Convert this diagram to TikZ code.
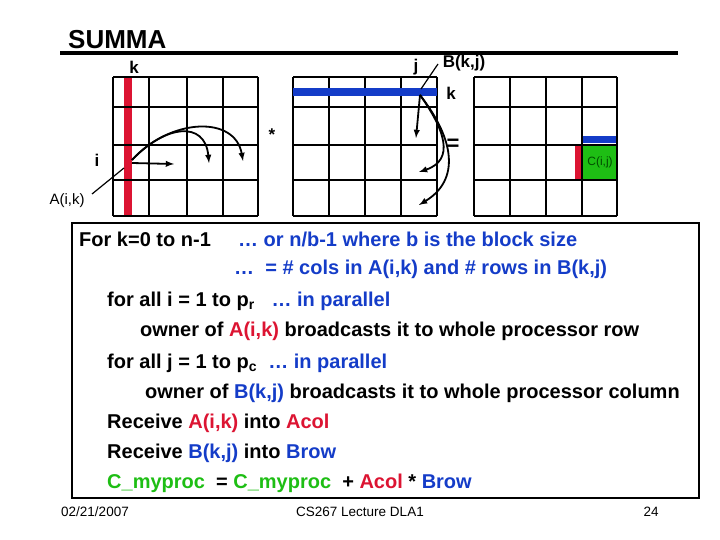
\documentclass[tikz,border=0pt]{standalone}
\usepackage{fontspec}
\setmainfont{Liberation Sans}
\begin{document}
\begin{tikzpicture}[x=1pt,y=-1pt,
  grid/.style={draw=black,line width=1.4pt},
  arr/.style={-latex,line width=1.8pt},
  lbl/.style={font=\bfseries\fontsize{17}{19}\selectfont,inner sep=0},
  txt/.style={font=\bfseries\fontsize{20}{22}\selectfont,anchor=west,inner sep=0},
  foot/.style={font=\fontsize{13.5}{15}\selectfont,inner sep=0}]
\definecolor{myblue}{RGB}{20,60,200}
\definecolor{myred}{RGB}{220,20,50}
\definecolor{mygreen}{RGB}{30,190,20}
\useasboundingbox (0,0) rectangle (720,540);
\node[inner sep=0,font=\bfseries\fontsize{26}{28}\selectfont,anchor=west] (title) at (68,40) {SUMMA};
\draw[line width=3.5pt] (60,53) -- (678,53);
% grid 1
\fill[myred] (124,77) rectangle (132,216);
\foreach \x in {113,149,187,223,258} \draw[grid] (\x,77) -- (\x,216);
\foreach \y in {77,107,145,180,216} \draw[grid] (113,\y) -- (258,\y);
% grid 2
\foreach \x in {293,329,365,401,437} \draw[grid] (\x,77) -- (\x,216);
\foreach \y in {77,107,145,180,216} \draw[grid] (293,\y) -- (437,\y);
\fill[myblue] (293,88) rectangle (437,96);
% grid 3
\fill[mygreen] (582,145) rectangle (617,180);
\fill[myblue] (582,136) rectangle (617,143);
\fill[myred] (575,145) rectangle (581,180);
\foreach \x in {474,510,546,582,617} \draw[grid] (\x,77) -- (\x,216);
\foreach \y in {77,107,145,180,216} \draw[grid] (474,\y) -- (617,\y);
% labels
\node[lbl] (k1) at (134,67) {k};
\node[lbl] (i1) at (97,160) {i};
\node[inner sep=0,font=\fontsize{15}{17}\selectfont] (aik) at (67,201) {A(i,k)};
\coordinate (aikpt) at (124,168);
\draw[line width=1.2pt] (92,194) -- (aikpt);
\node[lbl] (j2) at (416,67) {j};
\node[lbl] (bkj) at (464,63) {B(k,j)};
\coordinate (bkjpt) at (421,89);
\draw[line width=1.2pt] (438,64) -- (bkjpt);
\node[lbl] (k2) at (451,93) {k};
\node[lbl] (star) at (272,135) {*};
\node[lbl,font=\bfseries\fontsize{22}{24}\selectfont] (eq) at (453,145) {=};
\node[inner sep=0,font=\fontsize{12}{14}\selectfont,text=black!70!green] (cij) at (600,162) {C(i,j)};
% arrows grid 1
\coordinate (s1) at (132,160);
\coordinate (e1) at (174,164);
\coordinate (e2) at (209,163);
\coordinate (e3) at (243,161);
\draw[arr] (s1) ++(0,3) -- (e1);
\draw[arr] (s1) .. controls (165,125) and (205,120) .. (e2);
\draw[arr] (s1) .. controls (170,118) and (235,115) .. (e3);
% arrows grid 2
\coordinate (s2) at (420,95);
\draw[arr] (s2) -- (416,138);
\draw[arr] (s2) .. controls (445,130) and (455,160) .. (419,172);
\draw[arr] (s2) .. controls (455,140) and (460,180) .. (419,205);
% text box
\draw[line width=1.2pt] (72,223) rectangle (699,498);
\node[txt] (l1) at (79,239) {For k=0 to n-1};
\node[txt,text=myblue] (l1b) at (238,239) {… or n/b-1 where b is the block size};
\node[txt,text=myblue] (l2) at (234,269) {…\ \ = \# cols in A(i,k) and \# rows in B(k,j)};
\node[txt] (l3) at (107,301) {for all i = 1 to p$_{\mathbf r}$\ \ \ \textcolor{myblue}{… in parallel}};
\node[txt] (l4) at (140,331) {owner of \textcolor{myred}{A(i,k)} broadcasts it to whole processor row};
\node[txt] (l5) at (107,363) {for all j = 1 to p$_{\mathbf c}$\ \ \textcolor{myblue}{… in parallel}};
\node[txt] (l6) at (145,393) {owner of \textcolor{myblue}{B(k,j)} broadcasts it to whole processor column};
\node[txt] (l7) at (107,423) {Receive \textcolor{myred}{A(i,k)} into \textcolor{myred}{Acol}};
\node[txt] (l8) at (107,453) {Receive \textcolor{myblue}{B(k,j)} into \textcolor{myblue}{Brow}};
\node[txt] (l9) at (107,483) {\textcolor{mygreen}{C\_myproc}\ \ = \textcolor{mygreen}{C\_myproc}\ \ + \textcolor{myred}{Acol} * \textcolor{myblue}{Brow}};
\node[foot] (f1) at (95,512) {02/21/2007};
\node[foot] (f2) at (360,512) {CS267 Lecture DLA1};
\node[foot] (f3) at (651,512) {24};
\end{tikzpicture}
\end{document}
